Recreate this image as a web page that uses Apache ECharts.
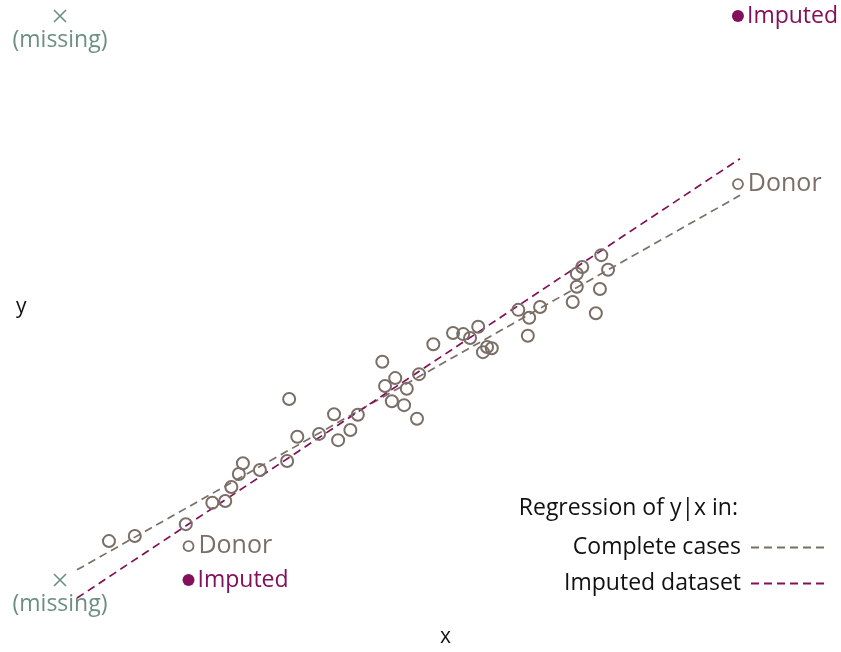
<!DOCTYPE html>
<html>
<head>
<meta charset="utf-8">
<script src="https://cdn.jsdelivr.net/npm/echarts@6/dist/echarts.min.js"></script>
<style>
  html, body { margin: 0; padding: 0; background: #ffffff; }
  #chart { width: 841px; height: 652px; }
</style>
</head>
<body>
<div id="chart"></div>
<script>
// Observed (complete) cases
const xObs = [7.2, 11.0, 18.5, 22.4, 24.3, 25.2, 26.3, 26.9, 29.4, 33.4, 33.7, 34.9, 38.1, 40.3, 40.9,
  42.7, 43.8, 47.4, 47.8, 49.3, 48.8, 51.0, 50.6, 52.5, 52.8, 54.9, 57.8, 59.3, 60.3, 61.5,
  62.2, 62.8, 63.5, 67.4, 69.0, 68.8, 70.6, 75.4, 76.0, 76.0, 76.8, 79.6, 80.6, 79.4, 78.8];
const yObs = [6.9, 7.8, 9.9, 13.7, 14.0, 16.5, 18.8, 20.7, 19.5, 21.1, 32.1, 25.4, 25.9, 29.4, 24.8,
  26.6, 29.3, 38.7, 34.4, 35.8, 31.7, 33.9, 31.0, 28.6, 36.5, 41.8, 43.8, 43.6, 42.9, 44.9,
  40.4, 41.3, 41.1, 47.9, 46.5, 43.3, 48.4, 49.3, 52.0, 54.3, 55.5, 57.6, 55.0, 51.6, 47.3];

// Cases with x missing (y known), their donors and the imputed values
const xMissing = [0, 0];
const yMissing = [100, 0];
const xDonor = [99.7, 18.9];
const yDonor = [70.2, 6.0];
const xImputed = [99.7, 18.9];
const yImputed = [100, 0];

// Fitted regression lines of y|x
const lineX = [2.5, 100];
const completeY = [1.8, 68.2];
const imputedY = [-3.2, 74.7];

const GREY = '#7a6e67';
const PLUM = '#82105a';
const TEAL = '#6b8f80';
const FONT = '"Open Sans", Lato, sans-serif';

const zip = (a, b) => a.map((v, i) => [v, b[i]]);

const chart = echarts.init(document.getElementById('chart'), null, { renderer: 'canvas' });

chart.setOption({
  animation: false,
  backgroundColor: '#ffffff',
  textStyle: { fontFamily: FONT },
  grid: { left: 60, right: 101, top: 16, bottom: 72 },
  xAxis: {
    type: 'value', min: 0, max: 100,
    axisLine: { show: false }, axisTick: { show: false },
    axisLabel: { show: false }, splitLine: { show: false }
  },
  yAxis: {
    type: 'value', min: 0, max: 100,
    axisLine: { show: false }, axisTick: { show: false },
    axisLabel: { show: false }, splitLine: { show: false }
  },
  legend: {
    orient: 'vertical',
    right: 11,
    top: 531,
    align: 'right',
    itemWidth: 73,
    itemHeight: 14,
    itemGap: 13,
    selectedMode: false,
    itemStyle: { color: 'rgba(0,0,0,0)', borderWidth: 0, opacity: 0 },
    textStyle: { fontFamily: FONT, fontSize: 23, color: '#111111', padding: [0, 5, 0, 0] },
    data: ['Complete cases', 'Imputed dataset']
  },
  graphic: [
    { type: 'text', right: 103, top: 497,
      style: { text: 'Regression of y|x in:', font: '23px ' + FONT, fill: '#111111' } },
    { type: 'text', left: 440, top: 627,
      style: { text: 'x', font: '21px ' + FONT, fill: '#111111' } },
    { type: 'text', left: 16, top: 297,
      style: { text: 'y', font: '21px ' + FONT, fill: '#111111' } }
  ],
  series: [
    {
      name: 'Complete cases', type: 'line', clip: false, symbol: 'none', z: 2,
      data: zip(lineX, completeY),
      lineStyle: { color: GREY, width: 1.7, type: [8, 5] },
      itemStyle: { color: GREY }
    },
    {
      name: 'Imputed dataset', type: 'line', clip: false, symbol: 'none', z: 2,
      data: zip(lineX, imputedY),
      lineStyle: { color: PLUM, width: 1.7, type: [8, 5] },
      itemStyle: { color: PLUM }
    },
    {
      name: 'Observed', type: 'scatter', clip: false, symbol: 'circle', symbolSize: 12, z: 3,
      data: zip(xObs, yObs),
      itemStyle: { color: 'rgba(255,255,255,0)', borderColor: GREY, borderWidth: 2, opacity: 1 }
    },
    {
      name: 'Donor', type: 'scatter', clip: false, symbol: 'circle', symbolSize: 10, z: 3,
      data: zip(xDonor, yDonor),
      itemStyle: { color: 'rgba(255,255,255,0)', borderColor: GREY, borderWidth: 1.8, opacity: 1 },
      label: { show: true, position: 'right', distance: 4, formatter: 'Donor',
        fontFamily: FONT, fontSize: 25, color: GREY }
    },
    {
      name: 'Imputed', type: 'scatter', clip: false, symbol: 'circle', symbolSize: 12, z: 3,
      data: zip(xImputed, yImputed),
      itemStyle: { color: PLUM, opacity: 1 },
      label: { show: true, position: 'right', distance: 3, formatter: 'Imputed',
        fontFamily: FONT, fontSize: 23, color: PLUM }
    },
    {
      name: 'Missing', type: 'scatter', clip: false, z: 3,
      symbol: 'path://M0,0L10,10M10,0L0,10', symbolSize: 12,
      data: zip(xMissing, yMissing),
      itemStyle: { color: 'rgba(0,0,0,0)', borderColor: TEAL, borderWidth: 1.6, opacity: 1 },
      label: { show: true, position: 'bottom', distance: 6, formatter: '(missing)',
        fontFamily: FONT, fontSize: 23, color: TEAL }
    }
  ]
});
</script>
</body>
</html>
